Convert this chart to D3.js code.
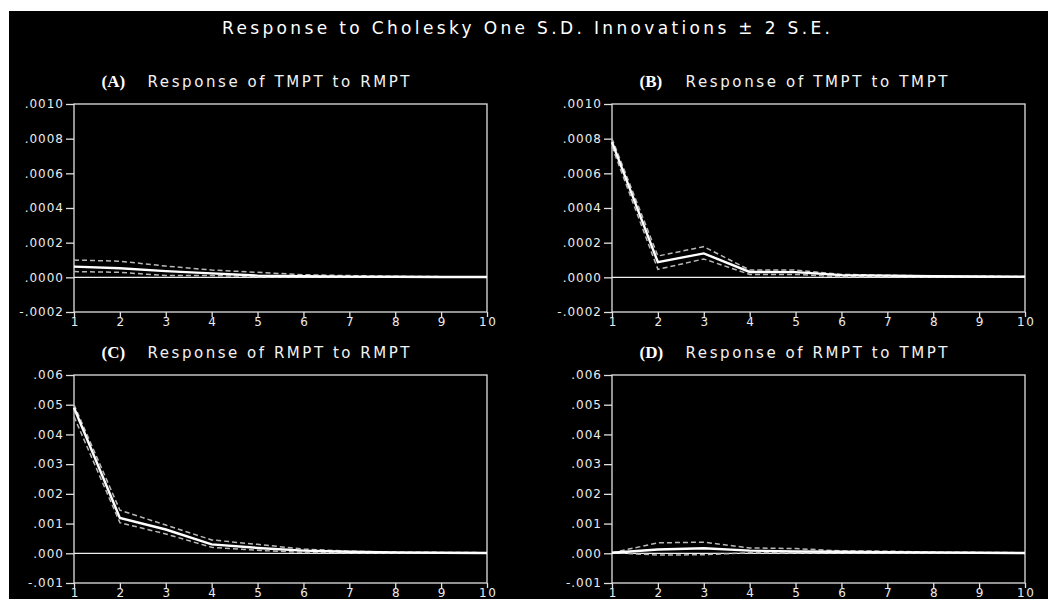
<!DOCTYPE html>
<html><head><meta charset="utf-8">
<script src="https://cdn.jsdelivr.net/npm/d3@7"></script>
<style>body{margin:0;background:#fff;}svg{display:block;}</style>
</head><body>
<svg id="c" width="1048" height="599"></svg>
<script>
const periods = [1,2,3,4,5,6,7,8,9,10];
const xTickLabels = ["1","2","3","4","5","6","7","8","9","10"];

// (A) Response of TMPT to RMPT
const respA  = [0.000062,0.000052,0.000036,0.000023,0.000010,0.000006,0.000004,0.000003,0.000002,0.000002];
const upperA = [0.000100,0.000093,0.000065,0.000042,0.000029,0.000015,0.000010,0.000006,0.000004,0.000003];
const lowerA = [0.000033,0.000029,0.000010,0.000010,0.000004,0.000003,0.000002,0.000001,0.000001,0.000001];
// (B) Response of TMPT to TMPT
const respB  = [0.000780,0.000087,0.000138,0.000031,0.000030,0.000013,0.000010,0.000006,0.000005,0.000004];
const upperB = [0.000800,0.000123,0.000177,0.000042,0.000042,0.000017,0.000012,0.000008,0.000006,0.000005];
const lowerB = [0.000755,0.000046,0.000106,0.000017,0.000017,0.000003,0.000005,0.000003,0.000003,0.000002];
// (C) Response of RMPT to RMPT
const respC  = [0.00490,0.00119,0.00080,0.00030,0.00018,0.00009,0.00005,0.00003,0.00002,0.00001];
const upperC = [0.00500,0.00145,0.00095,0.00045,0.00030,0.00014,0.00007,0.00004,0.00003,0.00002];
const lowerC = [0.00460,0.00103,0.00065,0.00020,0.00010,0.00003,0.00002,0.00001,0.00001,0.00000];
// (D) Response of RMPT to TMPT
const respD  = [0.000020,0.000125,0.000170,0.000090,0.000060,0.000050,0.000040,0.000030,0.000020,0.000010];
const upperD = [0.000020,0.000350,0.000375,0.000180,0.000160,0.000080,0.000070,0.000040,0.000030,0.000020];
const lowerD = [0.000020,-0.000060,-0.000050,0.000020,0.000010,0.000020,0.000015,0.000010,0.000008,0.000005];

const yTicksAB = [-0.0002,0,0.0002,0.0004,0.0006,0.0008,0.0010];
const yTickLabelsAB = ["-.0002",".0000",".0002",".0004",".0006",".0008",".0010"];
const yTicksCD = [-0.001,0,0.001,0.002,0.003,0.004,0.005,0.006];
const yTickLabelsCD = ["-.001",".000",".001",".002",".003",".004",".005",".006"];

const title = "Response to Cholesky One S.D. Innovations \u00b1 2 S.E.";
const panelLetters = ["(A)","(B)","(C)","(D)"];
const panelTitles = ["Response of TMPT to RMPT","Response of TMPT to TMPT","Response of RMPT to RMPT","Response of RMPT to TMPT"];

const svg = d3.select("#c");
svg.append("rect").attr("x",9).attr("y",11).attr("width",1039).attr("height",588).attr("fill","#000");

const sans = "DejaVu Sans, Verdana, sans-serif";

svg.append("text").attr("x",222).attr("y",34).attr("fill","#fff")
  .attr("font-family",sans).attr("font-size",17)
  .attr("textLength",608).attr("lengthAdjust","spacing").text(title);

const panels = [
  {x:74, y:104, resp:respA, up:upperA, lo:lowerA, ticks:yTicksAB, labels:yTickLabelsAB},
  {x:612,y:104, resp:respB, up:upperB, lo:lowerB, ticks:yTicksAB, labels:yTickLabelsAB},
  {x:74, y:375, resp:respC, up:upperC, lo:lowerC, ticks:yTicksCD, labels:yTickLabelsCD},
  {x:612,y:375, resp:respD, up:upperD, lo:lowerD, ticks:yTicksCD, labels:yTickLabelsCD}
];
const W = 413, H = 208;
const axisCol = "#e0e0e0";

panels.forEach((p,i)=>{
  const g = svg.append("g").attr("transform",`translate(${p.x},${p.y})`);
  const x = d3.scaleLinear().domain([1,10]).range([0,W]);
  const y = d3.scaleLinear().domain([p.ticks[0],p.ticks[p.ticks.length-1]]).range([H,0]);

  // subtitle
  const cx = p.x + W/2 - 24;
  const left = cx - 155;
  svg.append("text").attr("x",left).attr("y",p.y-17).attr("fill","#fff")
    .attr("font-family","Liberation Serif, Times New Roman, serif").attr("font-weight","bold")
    .attr("font-size",17).text(panelLetters[i]);
  svg.append("text").attr("x",left+46).attr("y",p.y-17).attr("fill","#f2f2f2")
    .attr("font-family",sans).attr("font-size",15)
    .attr("textLength",262).attr("lengthAdjust","spacing").text(panelTitles[i]);

  // frame
  g.append("rect").attr("width",W).attr("height",H).attr("fill","none").attr("stroke",axisCol).attr("stroke-width",1.3);

  // y axis
  const ya = d3.axisLeft(y).tickValues(p.ticks).tickFormat((d,k)=>p.labels[k]).tickSize(8).tickPadding(3);
  const yg = g.append("g").call(ya);
  yg.select(".domain").remove();
  yg.selectAll("line").attr("stroke",axisCol).attr("stroke-width",1.3);
  yg.selectAll("text").attr("fill","#ececec").attr("font-family",sans)
    .attr("font-size",12).attr("letter-spacing","1px").attr("dx","1");

  // x axis
  const xa = d3.axisBottom(x).tickValues(periods).tickFormat((d,k)=>xTickLabels[k]).tickSize(5).tickPadding(0);
  const xg = g.append("g").attr("transform",`translate(0,${H})`).call(xa);
  xg.select(".domain").remove();
  xg.selectAll("line").attr("stroke",axisCol).attr("stroke-width",1.3);
  xg.selectAll("text").attr("fill","#ececec").attr("font-family",sans)
    .attr("font-size",12).attr("letter-spacing","1.5px").attr("dx","0.75");

  // zero line
  g.append("line").attr("x1",0).attr("x2",W).attr("y1",y(0)).attr("y2",y(0)).attr("stroke","#f0f0f0").attr("stroke-width",1.3);

  const line = d3.line().x((d,k)=>x(periods[k])).y(d=>y(d));
  [p.up,p.lo].forEach(s=>{
    g.append("path").datum(s).attr("d",line).attr("fill","none").attr("stroke","#b8b8b8")
      .attr("stroke-width",1.5).attr("stroke-dasharray","5,3");
  });
  g.append("path").datum(p.resp).attr("d",line).attr("fill","none").attr("stroke","#fff").attr("stroke-width",2.4);
});
</script>
</body></html>
